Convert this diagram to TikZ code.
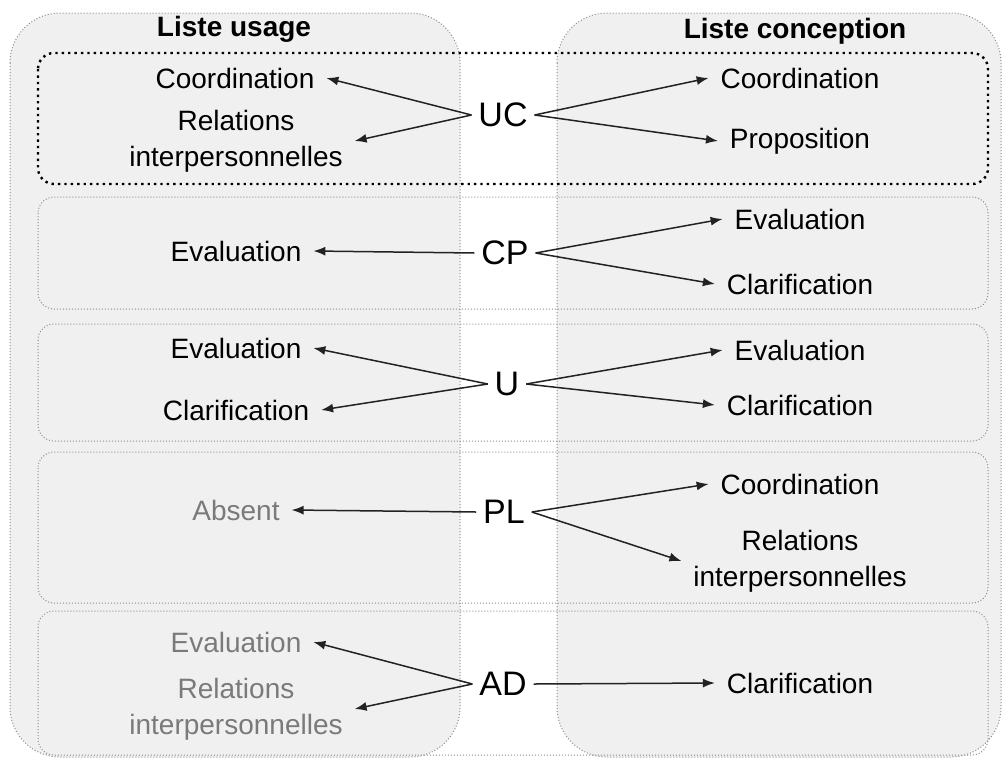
\documentclass[tikz,border=0pt]{standalone}
\usepackage{fontspec}
\setmainfont{Liberation Sans}
\usetikzlibrary{arrows.meta}
\definecolor{colfill}{HTML}{F0F0F0}
\definecolor{bordergray}{HTML}{8C8C8C}
\definecolor{arrowcol}{HTML}{222222}
\definecolor{dimtext}{HTML}{7A7A7A}
\tikzset{
  colbox/.style={draw=bordergray, densely dotted, line width=0.5pt, fill=colfill, rounded corners=25pt},
  rowbox/.style={draw=bordergray, densely dotted, line width=0.5pt, rounded corners=8pt},
  rowboxhi/.style={draw=black, dotted, line width=1.2pt, rounded corners=8pt},
  lbl/.style={font=\fontsize{14}{18}\selectfont, align=center, inner sep=2pt, outer sep=4pt, text=black},
  dim/.style={text=dimtext},
  title/.style={font=\fontsize{14}{17}\selectfont\bfseries, inner sep=1pt},
  hub/.style={font=\fontsize{17}{20}\selectfont, inner sep=1pt, outer sep=2.5pt},
  conn/.style={draw=arrowcol, line width=0.75pt, -{Latex[length=6pt,width=4.5pt]}}
}
\begin{document}
\begin{tikzpicture}[x=0.5pt,y=-0.5pt]
\useasboundingbox (0,0) rectangle (1004,760);
% columns
\draw[colbox] (10,13) rectangle (460,757);
\draw[colbox] (557,13) rectangle (1001,757);
% rows
\draw[rowboxhi] (38,53) rectangle (988,184);
\draw[rowbox] (38,197) rectangle (988,309);
\draw[rowbox] (38,324) rectangle (988,441);
\draw[rowbox] (38,452) rectangle (988,603);
\draw[rowbox] (38,611) rectangle (988,755);
% titles
\node[title] (t1) at (234,29) {Liste usage};
\node[title] (t2) at (795,31) {Liste conception};
% row 1
\node[lbl] (l1a) at (235,78) {Coordination};
\node[lbl] (l1b) at (236,141) {Relations\\interpersonnelles};
\node[hub] (h1) at (503,115) {UC};
\node[lbl] (r1a) at (800,78) {Coordination};
\node[lbl] (r1b) at (800,141) {Proposition};
% row 2
\node[lbl] (l2a) at (236,251) {Evaluation};
\node[hub] (h2) at (505,253) {CP};
\node[lbl] (r2a) at (800,219) {Evaluation};
\node[lbl] (r2b) at (800,284) {Clarification};
% row 3
\node[lbl] (l3a) at (236,348) {Evaluation};
\node[lbl] (l3b) at (236,410) {Clarification};
\node[hub] (h3) at (507,384) {U};
\node[lbl] (r3a) at (800,350) {Evaluation};
\node[lbl] (r3b) at (800,405) {Clarification};
% row 4
\node[lbl,dim] (l4a) at (236,510) {Absent};
\node[hub] (h4) at (504,512) {PL};
\node[lbl] (r4a) at (800,484) {Coordination};
\node[lbl] (r4b) at (800,561) {Relations\\interpersonnelles};
% row 5
\node[lbl,dim] (l5a) at (236,642) {Evaluation};
\node[lbl,dim] (l5b) at (236,709) {Relations\\interpersonnelles};
\node[hub] (h5) at (503,684) {AD};
\node[lbl] (r5a) at (800,683) {Clarification};
% connectors
\draw[conn] (h1.west) -- (l1a.east);
\draw[conn] (h1.west) -- (l1b.east);
\draw[conn] (h1.east) -- (r1a.west);
\draw[conn] (h1.east) -- (r1b.west);
\draw[conn] (h2.west) -- (l2a.east);
\draw[conn] (h2.east) -- (r2a.west);
\draw[conn] (h2.east) -- (r2b.west);
\draw[conn] (h3.west) -- (l3a.east);
\draw[conn] (h3.west) -- (l3b.east);
\draw[conn] (h3.east) -- (r3a.west);
\draw[conn] (h3.east) -- (r3b.west);
\draw[conn] (h4.west) -- (l4a.east);
\draw[conn] (h4.east) -- (r4a.west);
\draw[conn] (h4.east) -- (r4b.west);
\draw[conn] (h5.west) -- (l5a.east);
\draw[conn] (h5.west) -- (l5b.east);
\draw[conn] (h5.east) -- (r5a.west);
\end{tikzpicture}
\end{document}
